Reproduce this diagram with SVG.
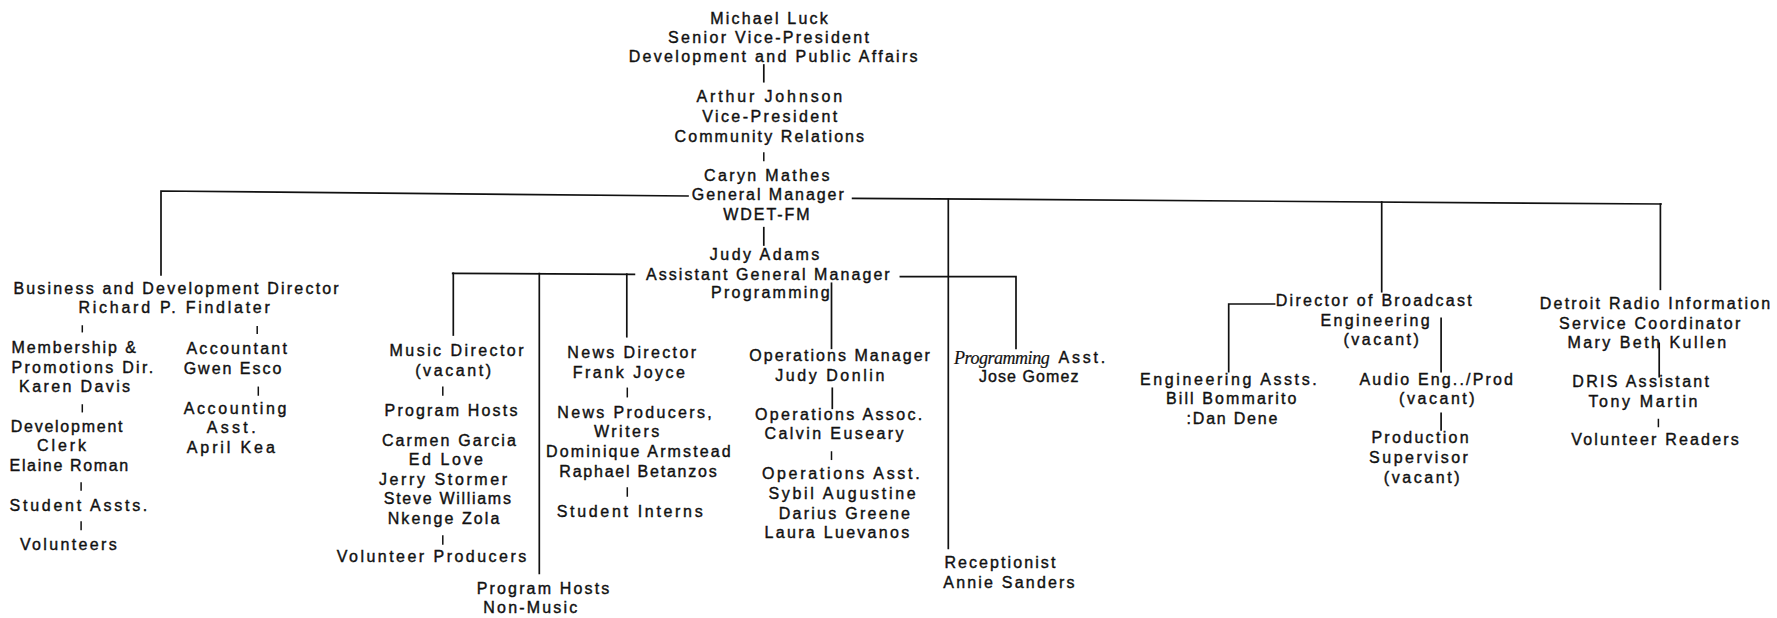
<svg xmlns="http://www.w3.org/2000/svg" width="1777" height="618" viewBox="0 0 1777 618">
<style>
text{font-family:"Liberation Sans",Arial,sans-serif;font-size:16px;fill:#111;stroke:#111;stroke-width:0.4;lengthAdjust:spacing}
.hand{font-family:"Liberation Serif",serif;font-style:italic;font-size:18px;stroke-width:0.2}
#connectors line,#connectors polyline{stroke:#111;stroke-width:1.7;fill:none;stroke-linecap:square}
#connectors .tick{stroke-width:1.5}
</style>
<rect width="1777" height="618" fill="#fff"/>
<g id="connectors">
<line x1="763.8" y1="65" x2="763.8" y2="81.7"/>
<line class="tick" x1="763.8" y1="153" x2="763.8" y2="160.5"/>
<line x1="763.8" y1="227.7" x2="763.8" y2="245"/>
<polyline points="161,275 161,191 688,196"/>
<line x1="852.6" y1="198.3" x2="1661" y2="204"/>
<line x1="948.3" y1="199" x2="948.3" y2="548.3"/>
<line x1="1381.7" y1="202" x2="1381.7" y2="291.7"/>
<line x1="1660.4" y1="204" x2="1660.4" y2="289.3"/>
<line x1="452.7" y1="273.3" x2="634.4" y2="274.3"/>
<line x1="453.3" y1="273.3" x2="453.3" y2="335"/>
<line x1="539.3" y1="273.6" x2="539.3" y2="573.3"/>
<line x1="626.8" y1="274.2" x2="626.8" y2="336.7"/>
<polyline points="900.4,276.7 1016,276.7 1016,348.3"/>
<line x1="831.5" y1="283.3" x2="831.5" y2="348.3"/>
<line class="tick" x1="82.3" y1="326" x2="82.3" y2="331.7"/>
<line class="tick" x1="257.2" y1="326.7" x2="257.2" y2="333.3"/>
<line class="tick" x1="82.3" y1="405" x2="82.3" y2="411.7"/>
<line class="tick" x1="81.1" y1="483" x2="81.1" y2="490"/>
<line class="tick" x1="81.1" y1="522" x2="81.1" y2="529.5"/>
<line class="tick" x1="258.3" y1="387.3" x2="258.3" y2="395"/>
<line class="tick" x1="442.8" y1="387.3" x2="442.8" y2="395"/>
<line class="tick" x1="442.8" y1="536" x2="442.8" y2="544"/>
<line class="tick" x1="627.3" y1="388.3" x2="627.3" y2="396.7"/>
<line class="tick" x1="627.3" y1="488" x2="627.3" y2="496"/>
<line x1="832.3" y1="388.3" x2="832.3" y2="408.3"/>
<line class="tick" x1="831.5" y1="452" x2="831.5" y2="459.3"/>
<polyline points="1274.6,304 1228.7,304 1228.7,371.7"/>
<line x1="1441.1" y1="318.3" x2="1441.1" y2="371.7"/>
<line x1="1441.1" y1="413.3" x2="1441.1" y2="430"/>
<line x1="1659.2" y1="343.3" x2="1659.2" y2="376.7"/>
<line class="tick" x1="1658.4" y1="419.5" x2="1658.4" y2="426.5"/>
</g>
<g id="n-luck">
<text x="710.2" y="24" textLength="117.5">Michael Luck</text>
<text x="668.1" y="43.3" textLength="200.9">Senior Vice-President</text>
<text x="628.7" y="61.7" textLength="288.9">Development and Public Affairs</text>
</g>
<g id="n-johnson">
<text x="696.4" y="101.7" textLength="145.8">Arthur Johnson</text>
<text x="702.2" y="121.7" textLength="135.1">Vice-President</text>
<text x="674.6" y="141.7" textLength="189.5">Community Relations</text>
</g>
<g id="n-mathes">
<text x="704.1" y="180.7" textLength="125.5">Caryn Mathes</text>
<text x="691.8" y="200" textLength="152">General Manager</text>
<text x="723.2" y="220" textLength="86.5">WDET-FM</text>
</g>
<g id="n-adams">
<text x="709.8" y="260" textLength="109.5">Judy Adams</text>
<text x="645.9" y="280" textLength="243.8">Assistant General Manager</text>
<text x="711" y="298.3" textLength="118.6">Programming</text>
</g>
<g id="n-findlater">
<text x="13.4" y="294" textLength="325.3">Business and Development Director</text>
<text x="78.5" y="313.3" textLength="191.3">Richard P. Findlater</text>
</g>
<g id="n-davis">
<text x="11.5" y="353.3" textLength="124.4">Membership &amp;</text>
<text x="11.5" y="372.7" textLength="141.6">Promotions Dir.</text>
<text x="19.1" y="391.7" textLength="111">Karen Davis</text>
</g>
<g id="n-roman">
<text x="10.7" y="431.7" textLength="111.8">Development</text>
<text x="37.1" y="450.7" textLength="49">Clerk</text>
<text x="9.6" y="470.7" textLength="118.6">Elaine Roman</text>
</g>
<g id="n-studentassts"><text x="9.6" y="510.7" textLength="137.7">Student Assts.</text></g>
<g id="n-volunteers"><text x="19.9" y="550" textLength="96.8">Volunteers</text></g>
<g id="n-esco">
<text x="186.4" y="354.3" textLength="100.6">Accountant</text>
<text x="183.7" y="374" textLength="97.6">Gwen Esco</text>
</g>
<g id="n-kea">
<text x="183.7" y="414.3" textLength="102.6">Accounting</text>
<text x="206.7" y="433.3" textLength="48.9">Asst.</text>
<text x="186.8" y="453.3" textLength="88">April Kea</text>
</g>
<g id="n-music">
<text x="389.6" y="356" textLength="133.9">Music Director</text>
<text x="415.2" y="376" textLength="75.8">(vacant)</text>
</g>
<g id="n-hosts">
<text x="384.6" y="416" textLength="132.8">Program Hosts</text>
<text x="381.9" y="445.7" textLength="134">Carmen Garcia</text>
<text x="408.7" y="465" textLength="74.3">Ed Love</text>
<text x="378.9" y="485" textLength="128.2">Jerry Stormer</text>
<text x="383.8" y="504" textLength="127.1">Steve Williams</text>
<text x="387.7" y="524.3" textLength="111.7">Nkenge Zola</text>
</g>
<g id="n-volprod"><text x="336.8" y="562.3" textLength="189.4">Volunteer Producers</text></g>
<g id="n-nonmusic">
<text x="476.7" y="594.3" textLength="132.6">Program Hosts</text>
<text x="483.3" y="613.3" textLength="94">Non-Music</text>
</g>
<g id="n-news">
<text x="567.3" y="358.3" textLength="128.7">News Director</text>
<text x="572.7" y="378.3" textLength="112.3">Frank Joyce</text>
</g>
<g id="n-newsprod">
<text x="557.3" y="417.7" textLength="154.4">News Producers,</text>
<text x="594" y="437.3" textLength="65.3">Writers</text>
<text x="546" y="457.3" textLength="184.7">Dominique Armstead</text>
<text x="559.3" y="476.7" textLength="157.4">Raphael Betanzos</text>
</g>
<g id="n-interns"><text x="556.7" y="516.7" textLength="146">Student Interns</text></g>
<g id="n-opsmgr">
<text x="749.3" y="361" textLength="180.6">Operations Manager</text>
<text x="775.3" y="380.7" textLength="109">Judy Donlin</text>
</g>
<g id="n-opsassoc">
<text x="755" y="420" textLength="167.2">Operations Assoc.</text>
<text x="764.6" y="439.3" textLength="138.9">Calvin Euseary</text>
</g>
<g id="n-opsasst">
<text x="761.9" y="479.3" textLength="157.7">Operations Asst.</text>
<text x="768.4" y="499" textLength="147.3">Sybil Augustine</text>
<text x="778.7" y="519" textLength="131.3">Darius Greene</text>
<text x="764.6" y="538.3" textLength="144.6">Laura Luevanos</text>
</g>
<g id="n-receptionist">
<text x="944.4" y="568.3" textLength="111">Receptionist</text>
<text x="943.3" y="588.3" textLength="131.3">Annie Sanders</text>
</g>
<g id="n-progasst">
<text class="hand" x="954" y="364" textLength="95.7">Programming</text>
<text x="1058.5" y="362.7" textLength="46.7">Asst.</text>
<text x="978.9" y="381.7" textLength="99.5">Jose Gomez</text>
</g>
<g id="n-broadcast">
<text x="1275.7" y="306" textLength="196">Director of Broadcast</text>
<text x="1320.5" y="326" textLength="109.1">Engineering</text>
<text x="1343.5" y="345" textLength="75.4">(vacant)</text>
</g>
<g id="n-engassts">
<text x="1140" y="385" textLength="176.7">Engineering Assts.</text>
<text x="1166" y="404" textLength="130.4">Bill Bommarito</text>
<text x="1186.6" y="424" textLength="90.7">:Dan Dene</text>
</g>
<g id="n-audio">
<text x="1359.5" y="385" textLength="153.5">Audio Eng../Prod</text>
<text x="1399" y="404.3" textLength="75.7">(vacant)</text>
</g>
<g id="n-prodsup">
<text x="1371.4" y="443.3" textLength="97.2">Production</text>
<text x="1369.1" y="463.3" textLength="98.8">Supervisor</text>
<text x="1383.8" y="483.3" textLength="75.9">(vacant)</text>
</g>
<g id="n-dris">
<text x="1539.8" y="309.3" textLength="230.4">Detroit Radio Information</text>
<text x="1559" y="329.3" textLength="181.3">Service Coordinator</text>
<text x="1567.4" y="348.3" textLength="158.8">Mary Beth Kullen</text>
</g>
<g id="n-drisasst">
<text x="1572.3" y="387.3" textLength="136.7">DRIS Assistant</text>
<text x="1588.4" y="407.3" textLength="109.1">Tony Martin</text>
</g>
<g id="n-readers"><text x="1571.2" y="445" textLength="167.6">Volunteer Readers</text></g>
</svg>
